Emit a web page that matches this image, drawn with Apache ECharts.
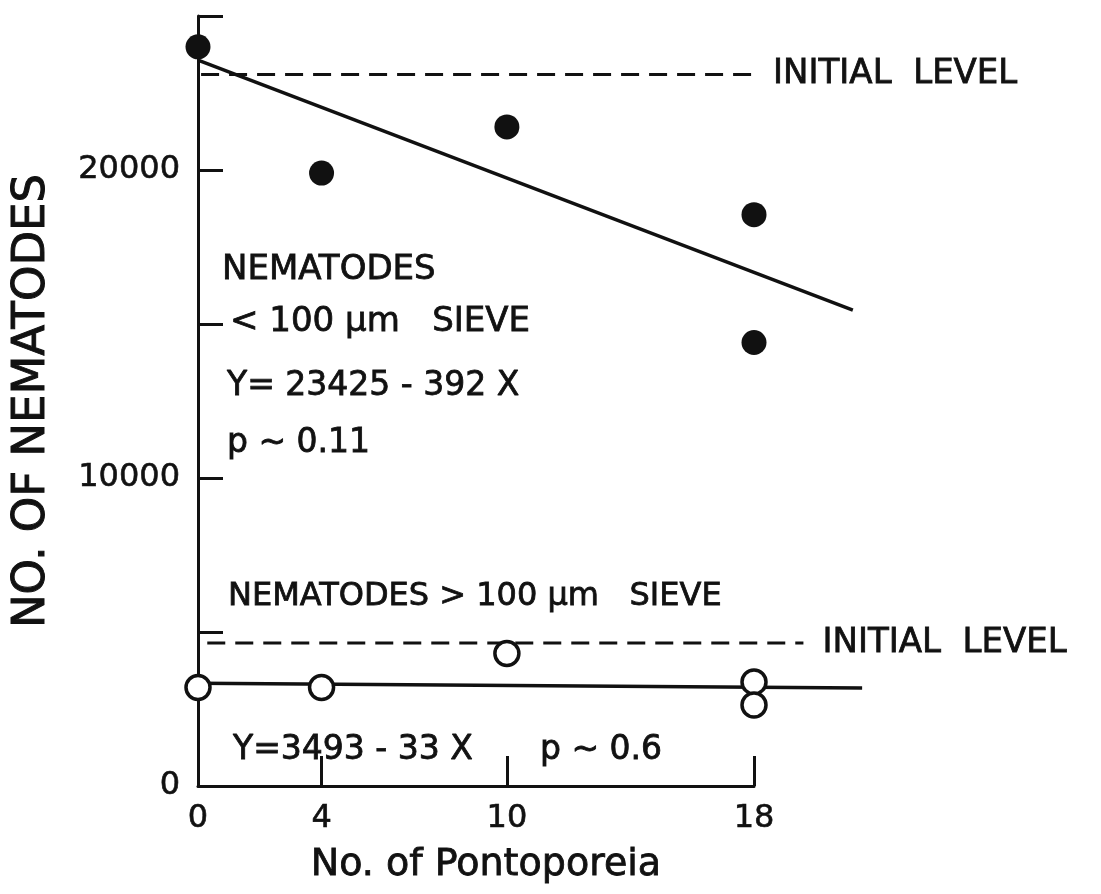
<!DOCTYPE html>
<html>
<head>
<meta charset="utf-8">
<title>Nematodes vs Pontoporeia</title>
<script src="https://cdn.jsdelivr.net/npm/echarts@6/dist/echarts.min.js"></script>
<style>
  html, body { margin: 0; padding: 0; background: #fff; }
  #main { width: 1101px; height: 894px; }
</style>
</head>
<body>
<div id="main"></div>
<script>
// nematodes < 100 um sieve (filled dots)
var smallX = [0, 4, 10, 18, 18];
var smallY = [24000, 19900, 21400, 18550, 14400];
// nematodes > 100 um sieve (open dots)
var largeX = [0, 4, 10, 18, 18];
var largeY = [3200, 3200, 4300, 3380, 2630];
// regression lines as drawn (they run past the last tick)
var smallFitX = [0, 21.2];
var smallFitY = [23570, 15450];
var largeFitX = [0, 21.5];
var largeFitY = [3340, 3180];
// initial levels (dashed)
var smallInitX = [0.1, 18.1];
var smallInitY = [23100, 23100];
var largeInitX = [0.3, 19.6];
var largeInitY = [4640, 4640];
// axis ticks / labels
var xTickValues = [4, 10, 18];
var xLabelValues = [0, 4, 10, 18];
var yLabelValues = [0, 10000, 20000];

var ink = '#111';
var font = 'DejaVu Sans';

function pairs(xs, ys) {
    var out = [];
    for (var i = 0; i < xs.length; i++) {
        out.push([xs[i], ys[i]]);
    }
    return out;
}

function note(text, x, y, size) {
    return {
        type: 'text',
        style: {
            text: text, x: x, y: y,
            font: size + 'px "DejaVu Sans"',
            fill: ink, stroke: ink, lineWidth: 0.8,
            verticalAlign: 'middle'
        }
    };
}

// the visible axis stops at 18, the lines go further: second grid, same scale, up to 22
var plotLeft = 198, plotW = 556, xMax = 18, xMaxWide = 22;
var wideRight = 1101 - (plotLeft + plotW / xMax * xMaxWide);

var myChart = echarts.init(document.getElementById('main'));

var option = {
    backgroundColor: '#fff',
    animation: false,
    grid: [
        { left: plotLeft, right: 1101 - plotLeft - plotW, top: 16, bottom: 108 },
        { left: plotLeft, right: wideRight, top: 16, bottom: 108 }
    ],
    xAxis: [{
        type: 'value',
        gridIndex: 0,
        min: 0,
        max: xMax,
        name: 'No. of Pontoporeia',
        nameLocation: 'middle',
        nameGap: 60,
        nameTextStyle: { fontFamily: font, fontSize: 38, color: ink, padding: [0, 0, 0, 20], textBorderColor: ink, textBorderWidth: 0.8 },
        splitLine: { show: false },
        axisLine: { lineStyle: { color: ink, width: 3 } },
        axisTick: { inside: true, length: 30, customValues: xTickValues, lineStyle: { color: ink, width: 3 } },
        axisLabel: { customValues: xLabelValues, margin: 17, fontFamily: font, fontSize: 32, color: ink, textBorderColor: ink, textBorderWidth: 0.6 }
    }, {
        type: 'value',
        gridIndex: 1,
        min: 0,
        max: xMaxWide,
        show: false
    }],
    yAxis: [{
        type: 'value',
        gridIndex: 0,
        min: 0,
        max: 25000,
        interval: 5000,
        name: 'NO. OF NEMATODES',
        nameLocation: 'middle',
        nameGap: 143,
        nameTextStyle: { fontFamily: font, fontSize: 45, color: ink, textBorderColor: ink, textBorderWidth: 1 },
        splitLine: { show: false },
        axisLine: { lineStyle: { color: ink, width: 3 } },
        axisTick: { inside: true, length: 25, lineStyle: { color: ink, width: 3 } },
        axisLabel: {
            margin: 18,
            fontFamily: font,
            fontSize: 32,
            color: ink,
            textBorderColor: ink,
            textBorderWidth: 0.6,
            formatter: function (v) {
                return yLabelValues.indexOf(v) >= 0 ? String(v) : '';
            }
        }
    }, {
        type: 'value',
        gridIndex: 1,
        min: 0,
        max: 25000,
        show: false
    }],
    graphic: [
        note('NEMATODES', 222, 270, 34),
        note('< 100 \u03bcm   SIEVE', 230, 322, 34),
        note('Y= 23425 - 392 X', 227, 386, 33),
        note('p ~ 0.11', 227, 443, 33),
        note('NEMATODES > 100 \u03bcm   SIEVE', 228, 597, 32),
        note('Y=3493 - 33 X', 233, 750, 33),
        note('p ~ 0.6', 540, 750, 33)
    ],
    series: [
        {
            name: 'initial < 100',
            type: 'line',
            xAxisIndex: 1, yAxisIndex: 1,
            showSymbol: false,
            data: pairs(smallInitX, smallInitY),
            lineStyle: { color: ink, width: 3, type: [18, 10] },
            endLabel: { show: true, formatter: 'INITIAL  LEVEL', distance: 16, fontFamily: font, fontSize: 34, color: ink, textBorderColor: ink, textBorderWidth: 0.8 },
            z: 1
        },
        {
            name: 'initial > 100',
            type: 'line',
            xAxisIndex: 1, yAxisIndex: 1,
            showSymbol: false,
            data: pairs(largeInitX, largeInitY),
            lineStyle: { color: ink, width: 3, type: [18, 10] },
            endLabel: { show: true, formatter: 'INITIAL  LEVEL', distance: 19, fontFamily: font, fontSize: 34, color: ink, textBorderColor: ink, textBorderWidth: 0.8 },
            z: 1
        },
        {
            name: 'fit < 100',
            type: 'line',
            xAxisIndex: 1, yAxisIndex: 1,
            showSymbol: false,
            data: pairs(smallFitX, smallFitY),
            lineStyle: { color: ink, width: 3.5 },
            z: 2
        },
        {
            name: 'fit > 100',
            type: 'line',
            xAxisIndex: 1, yAxisIndex: 1,
            showSymbol: false,
            data: pairs(largeFitX, largeFitY),
            lineStyle: { color: ink, width: 3.5 },
            z: 2
        },
        {
            name: '< 100 um',
            type: 'scatter',
            clip: false,
            symbol: 'circle',
            symbolSize: 25,
            data: pairs(smallX, smallY),
            itemStyle: { color: ink, opacity: 1 },
            z: 3
        },
        {
            name: '> 100 um',
            type: 'scatter',
            clip: false,
            symbol: 'circle',
            symbolSize: 24,
            data: pairs(largeX, largeY),
            itemStyle: { color: '#fff', borderColor: ink, borderWidth: 3.5, opacity: 1 },
            z: 3
        }
    ]
};

myChart.setOption(option);
</script>
</body>
</html>
